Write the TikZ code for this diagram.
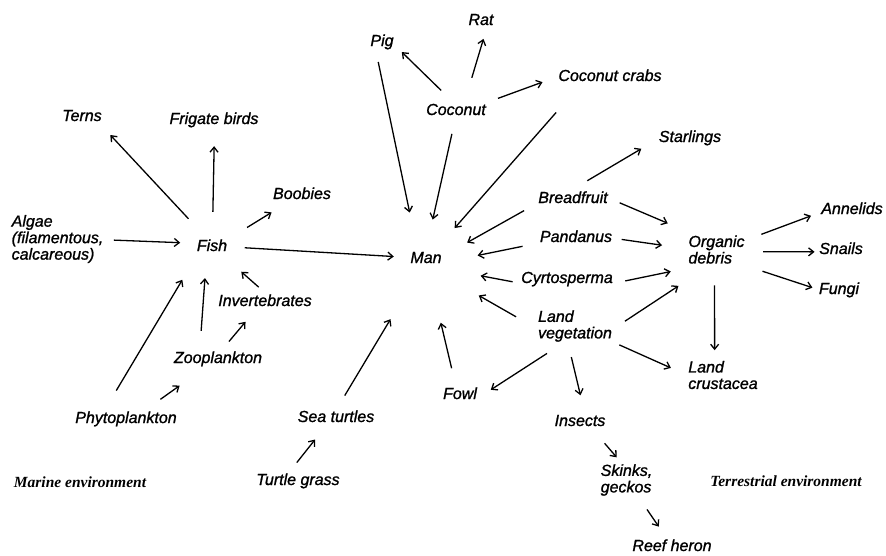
\documentclass[tikz,border=0pt]{standalone}
\usepackage{fontspec}
\setmainfont{Liberation Sans}[FakeBold=1.2]
\newfontfamily\envfont{Liberation Serif}
\usepackage{tikz}
\usetikzlibrary{positioning, arrows.meta}

\begin{document}
\begin{tikzpicture}[x=1pt,y=-1pt,line width=1.3pt,
    >={Straight Barb[length=5pt,width=8pt]},
    every node/.style={font=\fontsize{16}{16.5}\selectfont\itshape, inner sep=4pt},
    lbl/.style={text height=11.5pt, text depth=3.5pt},
    stack/.style={align=left},
    env/.style={font=\fontsize{15.5}{17}\selectfont\envfont\bfseries\itshape}]
\useasboundingbox (0,0) rectangle (886,555);

% marine side
\node[lbl] (terns) at (82,117) {Terns};
\node[lbl] (frigate) at (214,120) {Frigate birds};
\node[lbl] (boobies) at (302,195) {Boobies};
\node[stack] (algae) at (57.5,239) {Algae\\(filamentous,\\calcareous)};
\node[lbl] (fish) at (212,247) {Fish};
\node[lbl] (invert) at (265,302) {Invertebrates};
\node[lbl] (zoo) at (218,359) {Zooplankton};
\node[lbl] (phyto) at (126,419) {Phytoplankton};
\node[lbl] (seaturtles) at (336,418) {Sea turtles};
\node[lbl] (grass) at (298,481) {Turtle grass};
\node[env] (marine) at (80,482) {Marine environment};

% centre
\node[lbl] (man) at (426,259) {Man};
\node[lbl] (pig) at (382,42) {Pig};
\node[lbl] (rat) at (481,21) {Rat};
\node[lbl] (coconut) at (456,111) {Coconut};
\node[lbl] (crabs) at (610,77) {Coconut crabs};
\node[lbl] (fowl) at (460,395) {Fowl};

% terrestrial side
\node[lbl] (starlings) at (690,138) {Starlings};
\node[lbl] (breadfruit) at (573,199) {Breadfruit};
\node[lbl] (pandanus) at (576,238) {Pandanus};
\node[lbl] (cyrt) at (567,279) {Cyrtosperma};
\node[stack] (landveg) at (575,326) {Land\\vegetation};
\node[stack] (organic) at (716.5,249.5) {Organic\\debris};
\node[lbl] (annelids) at (852,210) {Annelids};
\node[lbl] (snails) at (841,250) {Snails};
\node[lbl] (fungi) at (839,290) {Fungi};
\node[stack] (crust) at (723,375) {Land\\crustacea};
\node[lbl] (insects) at (580,422) {Insects};
\node[stack] (skinks) at (626.5,480) {Skinks,\\geckos};
\node[lbl] (heron) at (672,547) {Reef heron};
\node[env] (terrestrial) at (786,481) {Terrestrial environment};

\path[->]
  (coconut.117) edge[shorten <=12pt, shorten >=5pt] (pig.-22)
  (coconut.52) edge[shorten <=22pt, shorten >=6pt] (rat.-71)
  (coconut.16) edge[shorten <=8pt, shorten >=12pt] (crabs.-179)
  (coconut.-98) edge[shorten <=11pt, shorten >=28pt] (man.87)
  (pig.-114) edge[shorten <=8pt, shorten >=35pt] (man.127)
  (crabs.-160) edge[shorten <=31pt, shorten >=25pt] (man.45)
  (fish.125) edge[shorten <=22pt, shorten >=8pt] (terns.-28)
  (fish.88) edge[shorten <=23pt, shorten >=14pt] (frigate.-88)
  (fish.27) edge[shorten <=18pt, shorten >=10pt] (boobies.-151)
  (algae.-1) edge[shorten <=6pt, shorten >=12pt] (fish.169)
  (fish.0) edge[shorten <=13pt, shorten >=12pt] (man.175)
  (invert.105) edge[shorten <=4pt, shorten >=19pt] (fish.-39)
  (zoo.146) edge[shorten <=16pt, shorten >=19pt] (fish.-115)
  (phyto.148) edge[shorten <=19pt, shorten >=24pt] (fish.-145)
  (zoo.62) edge[shorten <=7pt, shorten >=10pt] (invert.-137)
  (phyto.27) edge[shorten <=13pt, shorten >=25pt] (zoo.-146)
  (seaturtles.78) edge[shorten <=12pt, shorten >=56pt] (man.-119)
  (grass.117) edge[shorten <=8pt, shorten >=12pt] (seaturtles.-138)
  (fowl.112) edge[shorten <=15pt, shorten >=53pt] (man.-78)
  (breadfruit.72) edge[shorten <=12pt, shorten >=15pt] (starlings.-175)
  (breadfruit.-171) edge[shorten <=11pt, shorten >=24pt] (man.13)
  (breadfruit.-1) edge[shorten <=8pt, shorten >=19pt] (organic.149)
  (pandanus.-172) edge[shorten <=13pt, shorten >=32pt] (man.-8)
  (pandanus.-1) edge[shorten <=5pt, shorten >=22pt] (organic.178)
  (cyrt.-176) edge[shorten <=4pt, shorten >=35pt] (man.-27)
  (cyrt.-4) edge[shorten <=8pt, shorten >=16pt] (organic.-148)
  (landveg.-179) edge[shorten <=20pt, shorten >=49pt] (man.-50)
  (landveg.-1) edge[shorten <=10pt, shorten >=32pt] (organic.-121)
  (landveg.-130) edge[shorten <=13pt, shorten >=11pt] (fowl.-2)
  (landveg.-107) edge[shorten <=11pt, shorten >=15pt] (insects.72)
  (landveg.-23) edge[shorten <=3pt, shorten >=14pt] (crust.178)
  (organic.-96) edge[shorten <=17pt, shorten >=6pt] (crust.114)
  (organic.18) edge[shorten <=13pt, shorten >=6pt] (annelids.-174)
  (organic.-4) edge[shorten <=14pt] (snails.-176)
  (organic.-28) edge[shorten <=14pt, shorten >=2pt] (fungi.176)
  (insects.-36) edge[shorten <=12pt, shorten >=3pt] (skinks.111)
  (skinks.-55) edge[shorten <=11pt, shorten >=10pt] (heron.122);
\end{tikzpicture}
\end{document}
